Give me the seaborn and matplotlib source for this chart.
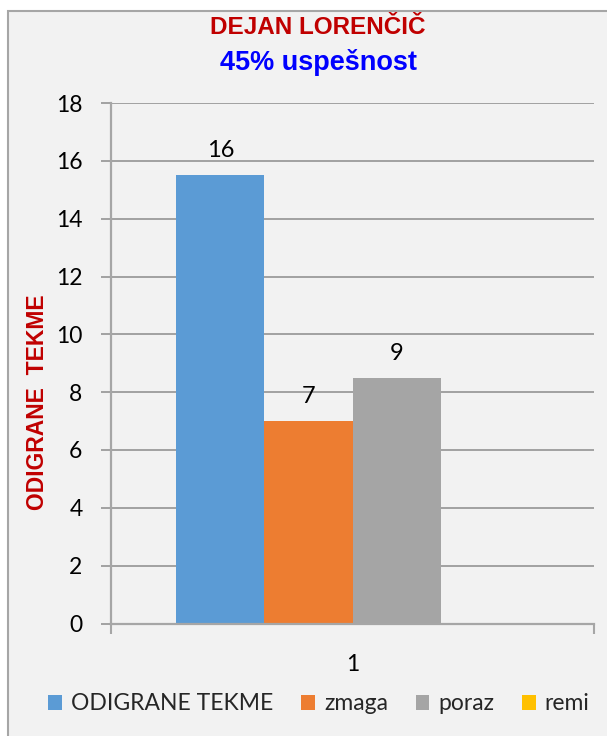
import pandas as pd
import numpy as np
import matplotlib
matplotlib.use("Agg")
import matplotlib.pyplot as plt
from matplotlib import font_manager
from matplotlib.patches import Rectangle
import seaborn as sns

# -----------------------------
# Data
# -----------------------------
kategorija = ["1", "1", "1", "1"]
serije = ["ODIGRANE TEKME", "zmaga", "poraz", "remi"]
vrednosti = [15.5, 7, 8.5, 0]
barve = ["#5B9BD5", "#ED7D31", "#A5A5A5", "#FFC000"]
y_ticks = [0, 2, 4, 6, 8, 10, 12, 14, 16, 18]

naslov = "DEJAN LORENČIČ"
podnaslov = "45% uspešnost"
y_naslov = "ODIGRANE  TEKME"

# -----------------------------
# Fonts (Arial Narrow look-alike if present)
# -----------------------------
imena = {f.name for f in font_manager.fontManager.ttflist}
ozka = "Liberation Sans Narrow" if "Liberation Sans Narrow" in imena else "Liberation Sans"
if ozka == "Liberation Sans Narrow":
    vel_naslov, vel_pod, vel_y = 20, 22.5, 19
else:
    vel_naslov, vel_pod, vel_y = 17.5, 19.5, 16.5

sns.set_style("white")
plt.rcParams["font.family"] = ["Lato", "DejaVu Sans"]

GRAY_GRID = "#8c8c8c"
GRAY_AXIS = "#a6a6a6"

df = pd.DataFrame({"kat": kategorija, "serija": serije, "vrednost": vrednosti})

W, H = 607, 736
fig = plt.figure(figsize=(W / 100, H / 100), dpi=100, facecolor="white")

# chart frame (extends past right/bottom edge like the screenshot)
okvir = Rectangle((8 / W, -0.1), 1.2, (H - 11) / H + 0.1, transform=fig.transFigure,
                  facecolor="#f2f2f2", edgecolor=GRAY_AXIS, lw=1.5, zorder=-10)
fig.patches.append(okvir)

ax = fig.add_axes([111 / W, (H - 623.5) / H, 483 / W, 520.5 / H])
ax.set_facecolor("none")

sns.barplot(data=df, x="kat", y="vrednost", hue="serija", hue_order=serije,
            palette=dict(zip(serije, barve)), saturation=1, width=0.729,
            ax=ax, errorbar=None, linewidth=0, edgecolor="none")

# data labels (Excel "0" format rounds half up)
for cont, v in zip(ax.containers, vrednosti):
    lab = [str(int(np.floor(v + 0.5))) if v > 0 else ""]
    ax.bar_label(cont, labels=lab, padding=10, fontsize=17, color="black")

ax.set_ylim(0, 18)
ax.set_xlim(-0.5, 0.5)
ax.set_yticks(y_ticks)
ax.set_axisbelow(True)
ax.yaxis.grid(True, color=GRAY_GRID, lw=1.1)
ax.xaxis.grid(False)

for s in ["top", "right"]:
    ax.spines[s].set_visible(False)
ax.spines["left"].set_color(GRAY_AXIS)
ax.spines["left"].set_linewidth(1.6)
ax.spines["bottom"].set_color(GRAY_AXIS)
ax.spines["bottom"].set_linewidth(1.6)

ax.tick_params(axis="y", which="major", length=7.5, width=1.1, color=GRAY_GRID,
               direction="out", pad=13, labelsize=16.5, labelcolor="black", left=True)
ax.set_xticks([-0.5, 0.5], minor=True)
ax.tick_params(axis="x", which="minor", length=7, width=1.5, color=GRAY_AXIS,
               direction="out", bottom=True)
ax.tick_params(axis="x", which="major", length=0, pad=22, labelsize=16.5,
               labelcolor="black")

ax.set_xlabel("")
ax.set_ylabel("")

# legend
handles, labels = ax.get_legend_handles_labels()
if ax.get_legend() is not None:
    ax.get_legend().remove()
fig.legend(handles, labels, loc="center", bbox_to_anchor=(319 / W, (H - 704) / H),
           ncol=4, frameon=False, fontsize=16.5, handlelength=0.6, handleheight=0.6,
           handletextpad=0.4, columnspacing=1.2, borderaxespad=0)

# titles
fig.text(318 / W, (H - 28) / H, naslov, ha="center", va="center", color="#C00000",
         fontsize=vel_naslov, fontweight="bold", family=[ozka, "DejaVu Sans"])
fig.text(318 / W, (H - 62) / H, podnaslov, ha="center", va="center", color="#0000FF",
         fontsize=vel_pod, fontweight="bold", family=[ozka, "DejaVu Sans"])
fig.text(37.5 / W, (H - 402) / H, y_naslov, ha="center", va="center", rotation=90,
         color="#C00000", fontsize=vel_y, fontweight="bold",
         family=[ozka, "DejaVu Sans"])

fig.savefig("out.png", dpi=100, facecolor="white")
